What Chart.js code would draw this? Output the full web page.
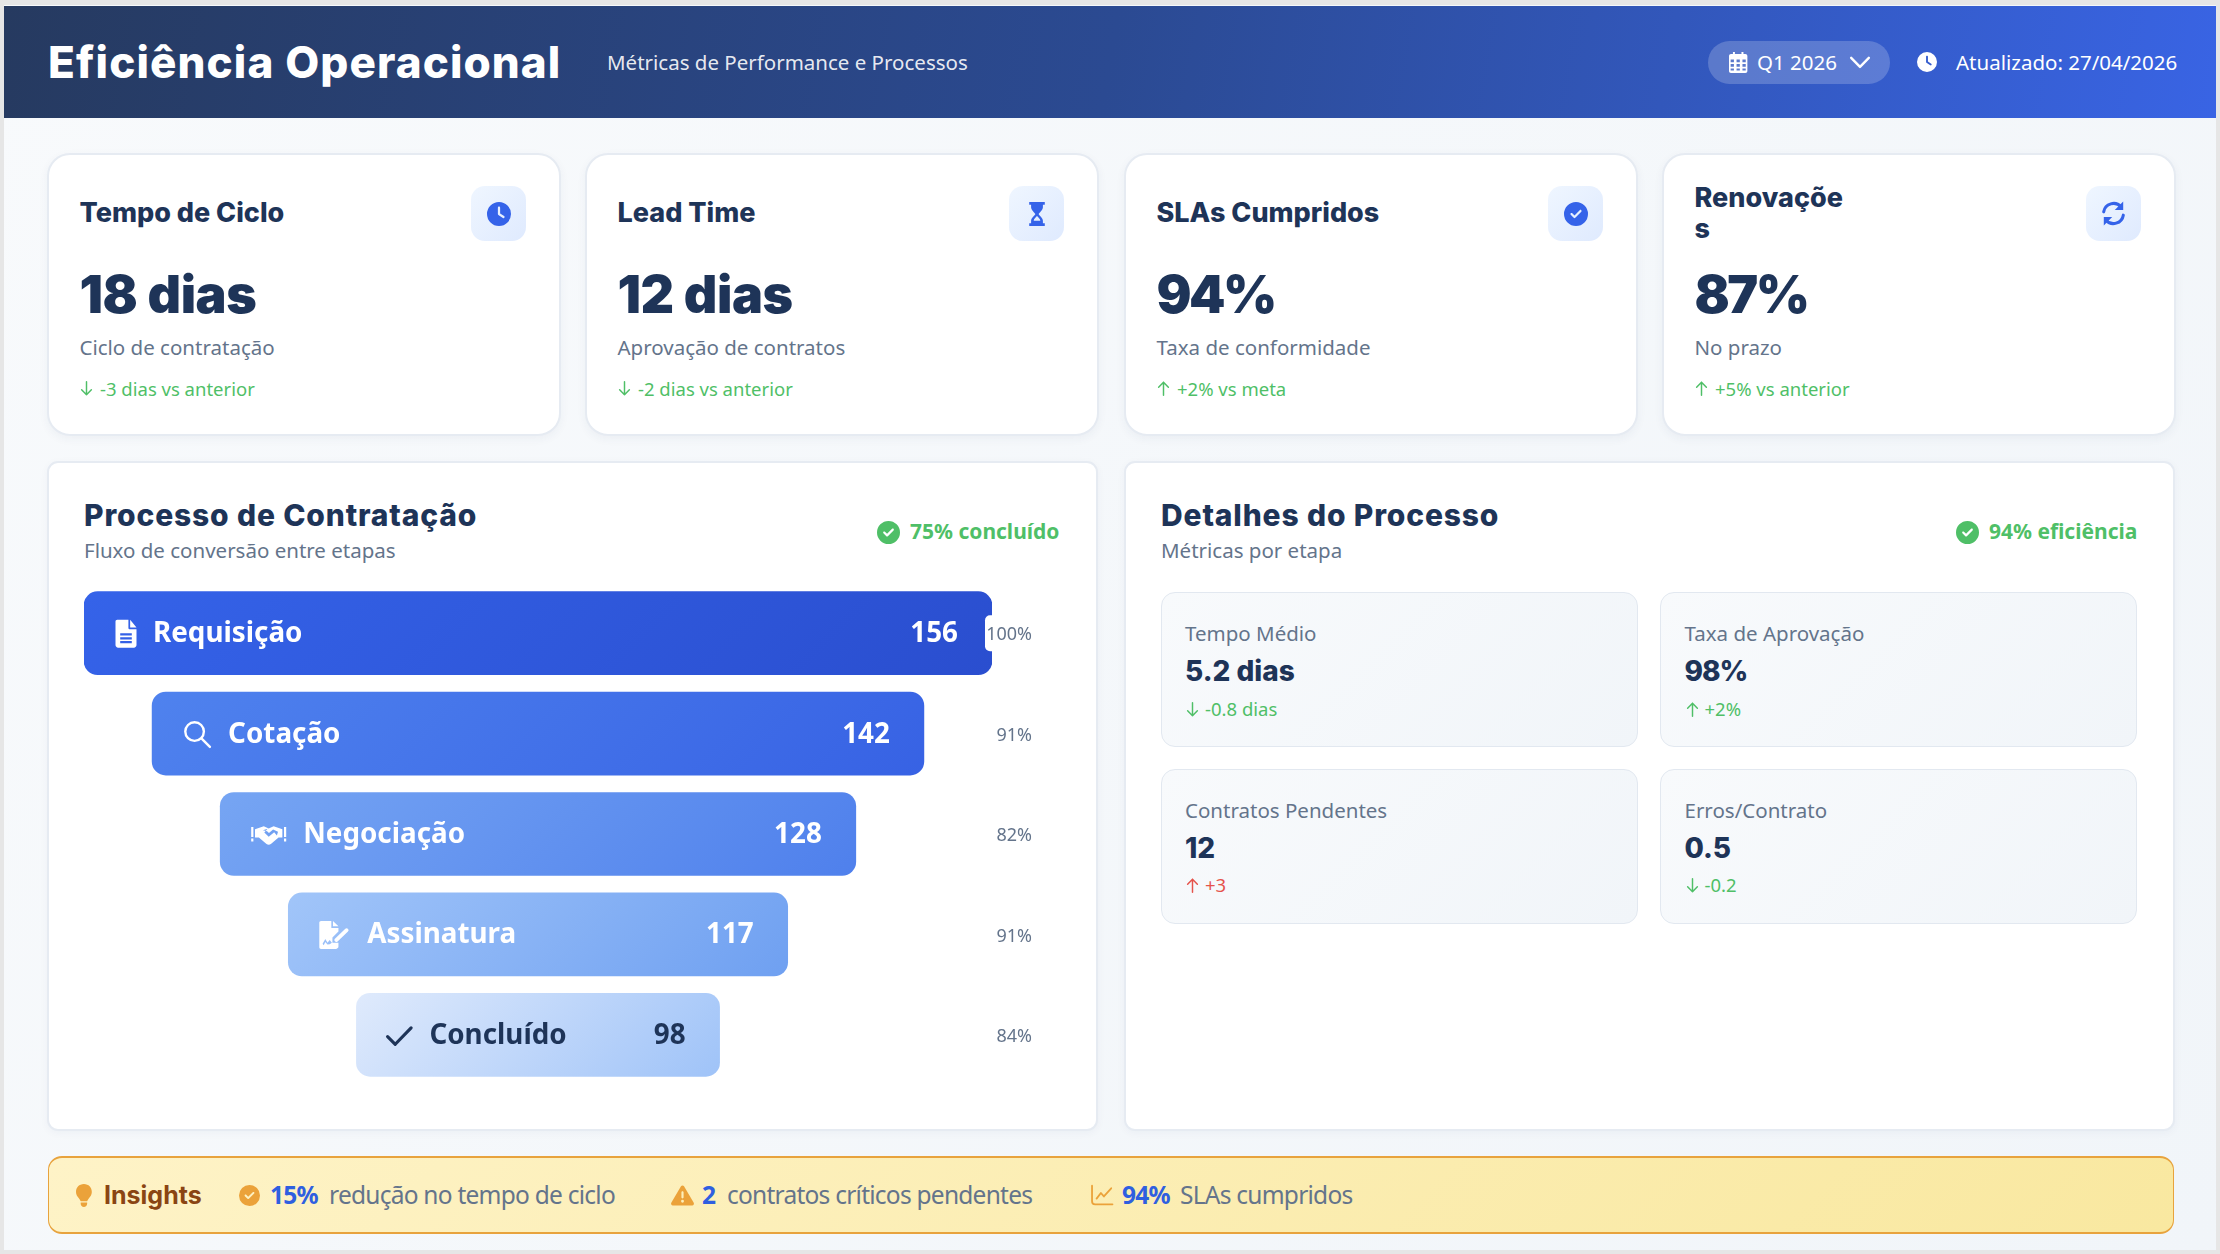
<!DOCTYPE html>
<html lang="pt-BR"><head><meta charset="utf-8"><title>Eficiência Operacional</title>
<script src="https://cdn.jsdelivr.net/npm/chart.js@4"></script>
<style>
html,body{margin:0;padding:0;width:2220px;height:1254px;overflow:hidden;background:#e6e6e6;font-family:"Noto Sans",sans-serif}
#page{position:absolute;left:4px;top:5px;width:2212px;height:1245px;background:linear-gradient(135deg,#f8fafc,#f1f5f9)}
#root{position:absolute;left:0;top:0;width:2220px;height:1254px}
.box{position:absolute;box-sizing:border-box}
.t{position:absolute;white-space:nowrap;transform:translateY(-50%);line-height:1.2}
.m{font-family:Inter,sans-serif;font-weight:700;color:#1e3458}
svg{position:absolute;display:block;overflow:visible}
.card{background:#fff;border:2px solid #e6ebf2;border-radius:23px;box-shadow:0 3px 10px rgba(30,58,95,.05)}
.panel{background:#fff;border:2px solid #e6ebf2;border-radius:11px;box-shadow:0 2px 8px rgba(30,58,95,.04)}
.mini{background:linear-gradient(135deg,#f8fafc,#f1f5f9);border:1.5px solid #e2e8f0;border-radius:14px}
canvas{position:absolute}
</style></head><body>
<div id="page"></div><div id="root"></div>
<div class="box" style="left:84px;top:583px;width:964px;height:502px"><canvas id="funnel"></canvas></div>
<script>
/* ---------- data ---------- */
const stages=["Requisição","Cotação","Negociação","Assinatura","Concluído"];
const stageCounts=[156,142,128,117,98];
const stageSpans=[[0,100],[7.5,92.5],[15,85],[22.5,77.5],[30,70]];
const stageConversion=["100%","91%","82%","91%","84%"];
const stageIcons=["file","search","handshake","signature","check"];
const kpiTitles=["Tempo de Ciclo","Lead Time","SLAs Cumpridos","Renovaçõe\ns"];
const kpiValues=["18 dias","12 dias","94%","87%"];
const kpiSubs=["Ciclo de contratação","Aprovação de contratos","Taxa de conformidade","No prazo"];
const kpiDeltas=["-3 dias vs anterior","-2 dias vs anterior","+2% vs meta","+5% vs anterior"];
const kpiArrows=["down","down","up","up"];
const kpiIcons=["clock","hourglass","circleCheck","sync"];
const detailLabels=["Tempo Médio","Taxa de Aprovação","Contratos Pendentes","Erros/Contrato"];
const detailValues=["5.2 dias","98%","12","0.5"];
const detailDeltas=["-0.8 dias","+2%","+3","-0.2"];
const detailArrows=["down","up","up","down"];
const detailColors=["g","g","r","g"];
const insightValues=["15%","2","94%"];
const insightTexts=["redução no tempo de ciclo","contratos críticos pendentes","SLAs cumpridos"];

/* ---------- icons ---------- */
const ICONS={
 clock:{v:[512,512],f:"M256 0a256 256 0 1 1 0 512A256 256 0 1 1 256 0zM232 120V256c0 8 4 15.5 10.7 20l96 64c11 7.4 25.9 4.4 33.3-6.7s4.4-25.9-6.7-33.3L280 243.2V120c0-13.3-10.7-24-24-24s-24 10.7-24 24z"},
 circleCheck:{v:[512,512],f:"M256 512A256 256 0 1 0 256 0a256 256 0 1 0 0 512zM369 209L241 337c-9.4 9.4-24.6 9.4-33.9 0l-64-64c-9.4-9.4-9.4-24.6 0-33.9s24.6-9.4 33.9 0l47 47L335 175c9.4-9.4 24.6-9.4 33.9 0s9.4 24.6 0 33.9z"},
 hourglass:{v:[512,512],f:"M90 0H422V60H90Z M90 452H422V512H90Z M130 60H382V110C382 170 310 220 290 256C310 292 382 342 382 402V452H130V402C130 342 202 292 222 256C202 220 130 170 130 110Z M256 300C230 330 190 360 185 400H327C322 360 282 330 256 300Z"},
 sync:{v:[512,512],s:"M70 225A190 190 0 0 1 400 130 M442 287A190 190 0 0 1 112 382",w:58,f:"M440 30V190H280Z M72 482V322H232Z"},
 file:{v:[512,512],f:"M96 0H300V150c0 15 11 26 26 26H448V464c0 27-21 48-48 48H112c-27 0-48-21-48-48V32C64 14 78 0 96 0Z M332 0L448 144H332Z M150 250H362V290H150Z M150 320H362V360H150Z M150 390H362V430H150Z"},
 search:{v:[512,512],s:"M380 210a170 170 0 1 0 -340 0a170 170 0 1 0 340 0 M335 335L490 490",w:44},
 handshake:{v:[640,512],f:"M0 120H40V300H0Z M0 330H40V385H0Z M600 120H640V300H600Z M600 330H640V385H600Z M70 160L230 105L320 145L410 105L570 160V310H500L360 430Q320 455 280 430L140 310H70Z M215 180L300 150L240 220L320 295L420 215L470 275L490 205L400 165L325 228L290 195Z"},
 signature:{v:[576,512],f:"M32 0H220V130H350V195L240 305V400H350V470c0 23-19 42-42 42H32c-18 0-32-14-32-32V32C0 14 14 0 32 0Z M250 0L350 100H250Z M60 420L110 330L150 400L190 350L230 400L190 425L150 430L110 385L80 445Z",s:"M310 350L500 170",w:70},
 check:{v:[512,512],s:"M40 280L180 420L470 120",w:58},
 calendar:{v:[448,512],f:"M96 0h48v48h160V0h48v48h48c27 0 48 21 48 48v368c0 27-21 48-48 48H48c-27 0-48-21-48-48V96c0-27 21-48 48-48h48Z M40 180V250H120V180Z M184 180V250H264V180Z M328 180V250H408V180Z M40 290V360H120V290Z M184 290V360H264V290Z M328 290V360H408V290Z M40 400V450H120V400Z M184 400V450H264V400Z M328 400V450H408V400Z"},
 chevron:{v:[512,512],s:"M30 150L256 380L482 150",w:62},
 up:{v:[512,512],s:"M256 490V40 M90 210L256 40L422 210",w:50},
 down:{v:[512,512],s:"M256 22V472 M90 302L256 472L422 302",w:50},
 bulb:{v:[352,512],f:"M176 0C70 0 0 80 0 176c0 60 30 100 60 135 20 23 36 50 44 73H248c8-23 24-50 44-73 30-35 60-75 60-135C352 80 282 0 176 0Z M104 410H248V440c0 40-32 72-72 72s-72-32-72-72Z"},
 triangle:{v:[512,512],f:"M256 32c14 0 27 7 34 20l216 368c7 12 7 27 0 39s-20 21-34 21H40c-14 0-27-8-34-21s-7-27 0-39L222 52c7-13 20-20 34-20Z M256 160c-13 0-24 11-24 24v112c0 13 11 24 24 24s24-11 24-24V184c0-13-11-24-24-24Z M288 384a32 32 0 1 0-64 0 32 32 0 1 0 64 0Z"},
 chartLine:{v:[512,512],s:"M24 40V400c0 40 30 72 72 72H500 M130 340L230 210L300 290L470 100",w:42}
};
function svgIcon(name,x,y,h,color){ // x = left, y = centre, h = pixel height of viewBox
 const ic=ICONS[name],sc=h/ic.v[1],w=ic.v[0]*sc;
 let s=`<svg style="left:${x}px;top:${y-h/2}px" width="${w}" height="${h}" viewBox="0 0 ${ic.v[0]} ${ic.v[1]}">`;
 if(ic.f)s+=`<path fill="${color}" fill-rule="evenodd" d="${ic.f}"/>`;
 if(ic.s)s+=`<path fill="none" stroke="${color}" stroke-width="${ic.w}" stroke-linecap="round" stroke-linejoin="round" d="${ic.s}"/>`;
 return s+`</svg>`;
}
function canvasIcon(ctx,name,x,y,h,color){
 const ic=ICONS[name],sc=h/ic.v[1];
 ctx.save();ctx.translate(x,y-h/2);ctx.scale(sc,sc);ctx.fillStyle=color;ctx.strokeStyle=color;
 if(ic.f)ctx.fill(new Path2D(ic.f),"evenodd");
 if(ic.s){ctx.lineWidth=ic.w;ctx.lineCap="round";ctx.lineJoin="round";ctx.stroke(new Path2D(ic.s));}
 ctx.restore();
}

/* ---------- static page ---------- */
const GREEN="#4fbf67",RED="#e5534b",NAVY="#1e3458",GREY="#64748b",BLUE="#3563e9";
function box(x0,y0,x1,y1,cls,extra){return `<div class="box ${cls||""}" style="left:${x0}px;top:${y0}px;width:${x1-x0}px;height:${y1-y0}px;${extra||""}"></div>`;}
function txt(x,y,s,size,color,extra,cls){return `<div class="t ${cls||""}" style="left:${x}px;top:${y}px;font-size:${size}px;color:${color};${extra||""}">${s}</div>`;}
let h="";
h+=box(4,6,2216,118,"","background:linear-gradient(100deg,#263a60 0%,#2b4a92 50%,#3964e4 100%)");
h+=txt(48,62,"Eficiência Operacional",44,"#fff","font-weight:800;letter-spacing:1.1px","m");
h+=txt(607,62,"Métricas de Performance e Processos",20.5,"rgba(255,255,255,.9)");
h+=box(1708,41,1890,84,"","background:rgba(255,255,255,.2);border-radius:22px");
h+=svgIcon("calendar",1729,62,21,"#fff");
h+=txt(1757,62,"Q1 2026",20.5,"#fff");
h+=svgIcon("chevron",1850,62,20,"#fff");
h+=svgIcon("clock",1917,62,20,"#fff");
h+=txt(1956,62,"Atualizado: 27/04/2026",20.5,"#fff");
const cardX=[47,585,1124,1662],iconX=[471,1009,1548,2086];
kpiTitles.forEach((tt,i)=>{
 const x=cardX[i],tx=x+33;
 h+=box(x,153,x+514,436,"card");
 const lines=tt.split("\n");
 if(lines.length===1)h+=txt(tx-.5,213,tt,27,NAVY,"font-weight:800","m");
 else{h+=txt(tx-.5,198,lines[0],27,NAVY,"font-weight:800","m");h+=txt(tx-.5,229,lines[1],27,NAVY,"font-weight:800","m");}
 h+=box(iconX[i],186,iconX[i]+55,241,"","background:linear-gradient(135deg,#eff6ff,#dfeafe);border-radius:14px");
 const ih=kpiIcons[i]==="sync"?27:24;
 h+=svgIcon(kpiIcons[i],iconX[i]+27.5-ih/2,213.5,ih,BLUE);
 const ls=kpiValues[i].endsWith("%")?"-2.5px":"-.4px";
 h+=txt(tx-.5,295,kpiValues[i],52,NAVY,"font-weight:900;letter-spacing:"+ls,"m");
 h+=txt(tx-.5,347,kpiSubs[i],20.5,GREY);
 h+=svgIcon(kpiArrows[i],tx-1,388.5,15,GREEN);
 h+=txt(tx+20,389,kpiDeltas[i],18.5,GREEN);
});
[[47,"Processo de Contratação","Fluxo de conversão entre etapas",877,910,"75% concluído"],[1124,"Detalhes do Processo","Métricas por etapa",1956,1989,"94% eficiência"]].forEach(p=>{
 h+=box(p[0],461,p[0]+1051,1131,"panel");
 h+=txt(p[0]+37,515,p[1],30,NAVY,"font-weight:800;letter-spacing:.85px","m");
 h+=txt(p[0]+37,550,p[2],20.5,GREY);
 h+=svgIcon("circleCheck",p[3],532,23,GREEN);
 h+=txt(p[4],532,p[5],21,GREEN,"font-weight:700");
});
const miniX=[1161,1660,1161,1660],miniY=[592,592,769,769];
detailLabels.forEach((l,i)=>{
 const x=miniX[i],y=miniY[i],dy=i>1?-1:0,tx=x+24+(i%2?.5:0);
 h+=box(x,y,x+477,y+155,"mini");
 h+=txt(tx,y+41,l,20.5,GREY);
 const ls=detailValues[i].endsWith("%")?"-1px":"0";
 h+=txt(tx,y+80,detailValues[i],28,NAVY,"font-weight:800;letter-spacing:"+ls,"m");
 const c=detailColors[i]==="g"?GREEN:RED;
 h+=svgIcon(detailArrows[i],tx,y+117+dy,15,c);
 h+=txt(tx+20,y+117+dy,detailDeltas[i],18.5,c);
});
const ins="letter-spacing:-.75px";
h+=box(48,1156,2174,1234,"","background:linear-gradient(135deg,#fef3c7,#f9e8a0);border:1.5px solid #e8a33d;border-top-width:2.5px;border-bottom-width:2.5px;border-radius:14px");
h+=svgIcon("bulb",76,1195,23,"#eba23a");
h+=txt(104,1195,"Insights",25,"#8a4513","","m");
h+=svgIcon("circleCheck",239,1195,21,"#eba23a");
h+=txt(270,1195,insightValues[0],24.5,"#2f5fe0","font-weight:700;"+ins);
h+=txt(329,1195,insightTexts[0],24.5,GREY,ins);
h+=svgIcon("triangle",671,1195,23,"#eba23a");
h+=txt(702,1195,insightValues[1],24.5,"#2f5fe0","font-weight:700;"+ins);
h+=txt(727,1195,insightTexts[1],24.5,GREY,ins);
h+=svgIcon("chartLine",1091,1195,22,"#eba23a");
h+=txt(1122,1195,insightValues[2],24.5,"#2f5fe0","font-weight:700;"+ins);
h+=txt(1180,1195,insightTexts[2],24.5,GREY,ins);
document.getElementById("root").innerHTML=h;

/* ---------- funnel chart ---------- */
const stageGradients=[["#3563e9","#2a4ecf"],["#4f82ee","#3762e4"],["#76a5f3","#4f80ec"],["#a1c5f9","#6fa0f1"],["#dfeafc","#9fc3f8"]];
const stageTextColor=["#fff","#fff","#fff","#fff",NAVY];
const iconOffset=[28,31,31,31,29];
const textOffset=[69,76,83,79,73];
function barFill(c){
 const fallback=stageGradients[c.dataIndex||0][1];
 if(c.type!=="data")return fallback;
 const ch=c.chart,xs=ch.scales.x,ys=ch.scales.y;
 if(!xs||!ys)return fallback;
 const span=stageSpans[c.dataIndex],x0=xs.getPixelForValue(span[0]),x1=xs.getPixelForValue(span[1]);
 const yc=ys.getPixelForValue(c.dataIndex),hh=83,w=x1-x0;
 if(![x0,x1,yc].every(Number.isFinite))return fallback;
 const L=(w+hh)/4,cx=(x0+x1)/2;
 const g=ch.ctx.createLinearGradient(cx-L,yc-L,cx+L,yc+L);
 g.addColorStop(0,stageGradients[c.dataIndex][0]);g.addColorStop(1,stageGradients[c.dataIndex][1]);
 return g;
}
const funnelLabels={id:"funnelLabels",afterDatasetsDraw(ch){
 const ctx=ch.ctx,xs=ch.scales.x,ys=ch.scales.y;
 stages.forEach((s,i)=>{
  const x0=xs.getPixelForValue(stageSpans[i][0]),x1=xs.getPixelForValue(stageSpans[i][1]),y=ys.getPixelForValue(i);
  ctx.save();
  ctx.textBaseline="middle";
  canvasIcon(ctx,stageIcons[i],x0+iconOffset[i],y+.5,28,stageTextColor[i]);
  ctx.fillStyle=stageTextColor[i];ctx.font='700 27.8px "Noto Sans"';
  ctx.textAlign="left";ctx.fillText(s,x0+textOffset[i],y+1);
  ctx.textAlign="right";ctx.fillText(String(stageCounts[i]),x1-34,y+1);
  const pr=xs.right+40;
  if(i===0){ctx.fillStyle="#fff";ctx.beginPath();ctx.roundRect(xs.right-7,y-18,50,36,[5,0,0,5]);ctx.fill();}
  ctx.font='400 18px "Noto Sans"';ctx.fillStyle=GREY;
  ctx.fillText(stageConversion[i],pr,y+2);
  ctx.restore();
 });
}};
new Chart(document.getElementById("funnel"),{
 type:"bar",
 data:{labels:stages,datasets:[{label:"Etapas",data:stageSpans,backgroundColor:barFill,borderRadius:14,borderSkipped:false,barThickness:83}]},
 options:{indexAxis:"y",responsive:true,maintainAspectRatio:false,animation:false,
  layout:{padding:{left:0,right:56,top:0,bottom:0}},
  plugins:{legend:{display:false},tooltip:{enabled:false}},
  scales:{x:{display:false,min:0,max:100},y:{display:false}}},
 plugins:[funnelLabels]
});
</script></body></html>
